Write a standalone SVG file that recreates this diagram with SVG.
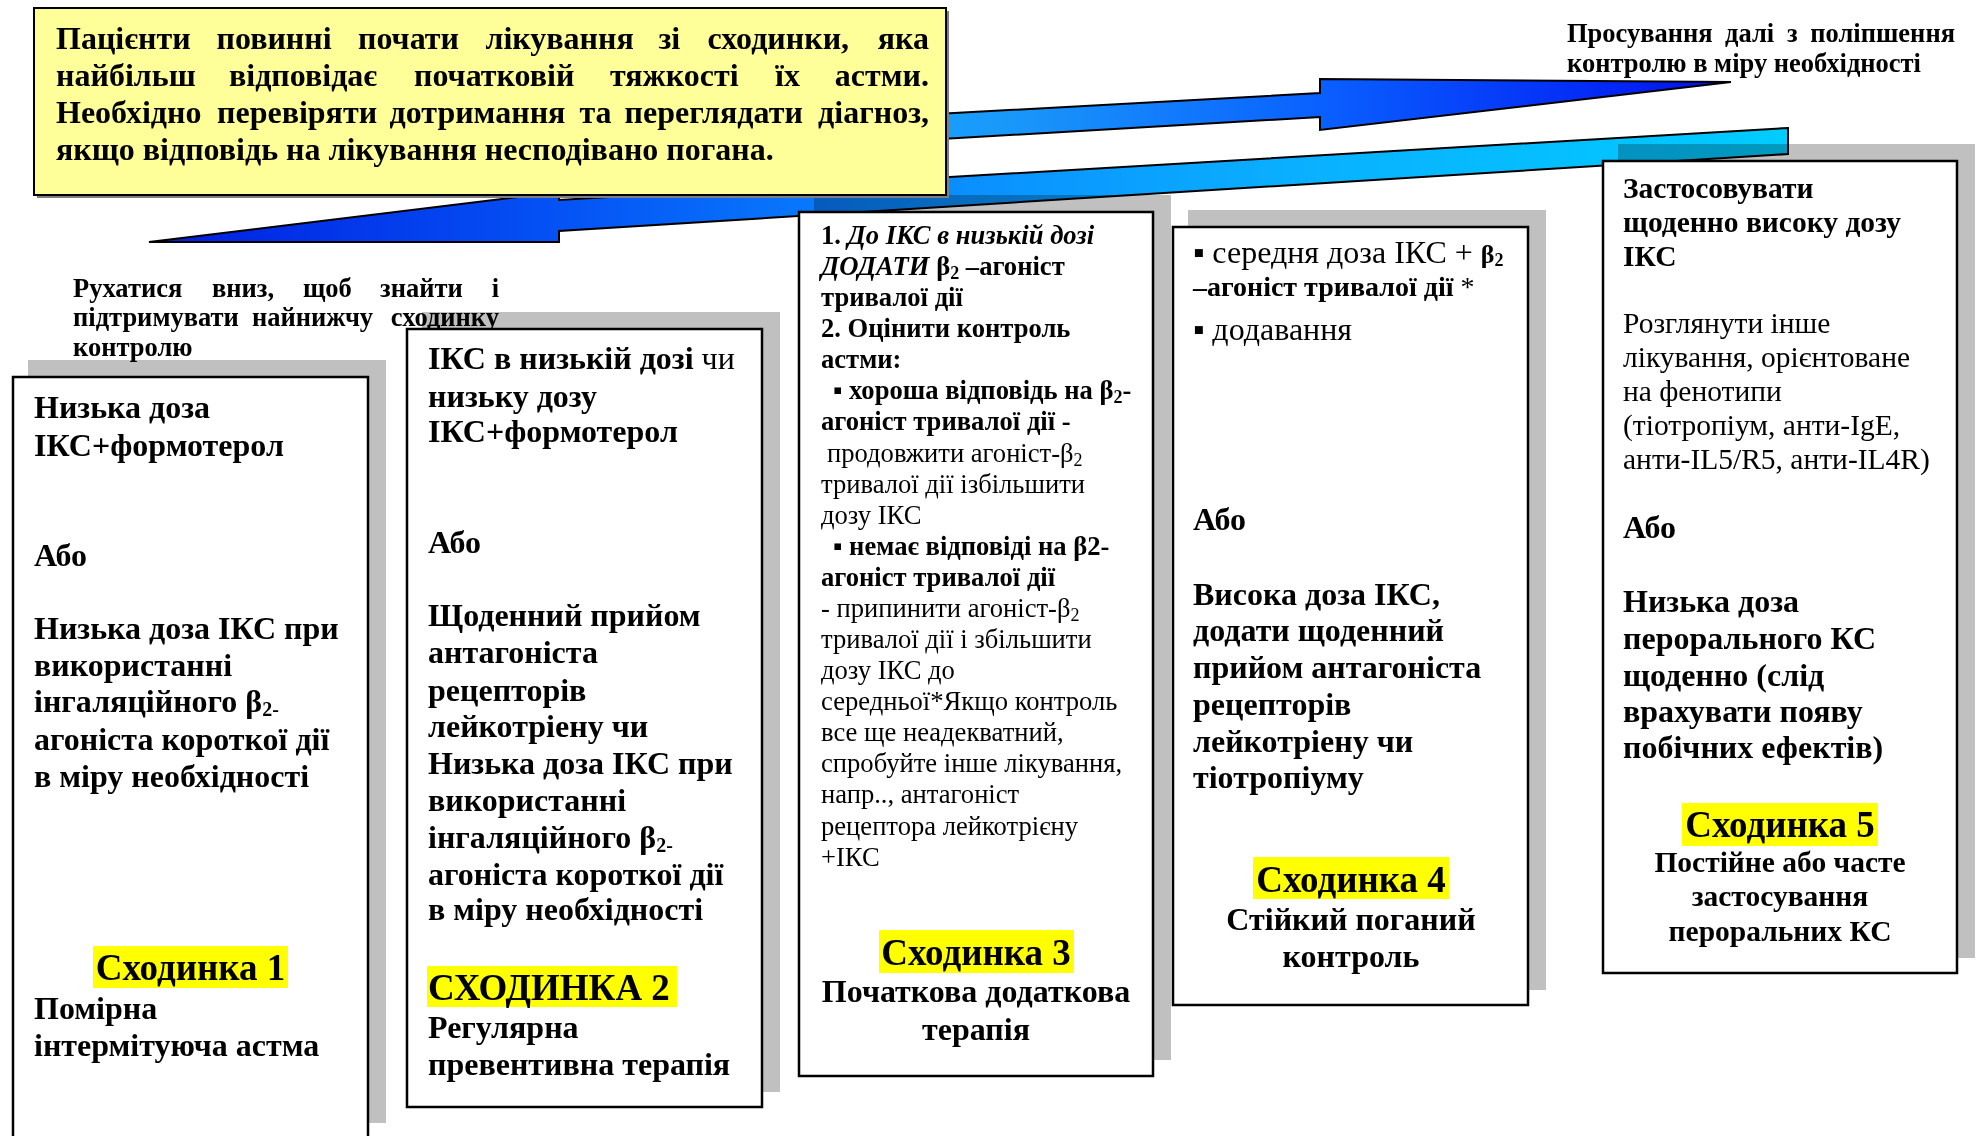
<svg xmlns="http://www.w3.org/2000/svg" width="1980" height="1136" viewBox="0 0 1980 1136">
<defs>
<style>
text{font-family:"Liberation Serif","Times New Roman",serif;fill:#000;}
.b{font-weight:bold;}
.i{font-style:italic;}
.r{font-weight:normal;}
.f32{font-size:32px;}
.f30{font-size:29.5px;}
.f28{font-size:28px;}
.f27{font-size:26.6px;}
.f26{font-size:26.5px;}
.step{font-size:37px;font-weight:bold;}
.box{fill:#fff;stroke:#000;stroke-width:2.5;}
.shadow{fill:#c0c0c0;mix-blend-mode:multiply;}
.hl{fill:#ffff00;}
.arrow{stroke:#000;stroke-width:2;}
</style>
<linearGradient id="upGrad" gradientUnits="userSpaceOnUse" x1="700" y1="0" x2="1731" y2="0">
<stop offset="0" stop-color="#14b0ff"/>
<stop offset="0.3" stop-color="#1a98fa"/>
<stop offset="0.6" stop-color="#0a60ff"/>
<stop offset="1" stop-color="#0010f0"/>
</linearGradient>
<linearGradient id="downGrad" gradientUnits="userSpaceOnUse" x1="1788" y1="0" x2="149" y2="0">
<stop offset="0" stop-color="#00ccff"/>
<stop offset="0.3" stop-color="#0ab0ff"/>
<stop offset="0.5" stop-color="#0a90ff"/>
<stop offset="0.75" stop-color="#0552f5"/>
<stop offset="1" stop-color="#001ee0"/>
</linearGradient>
</defs>
<rect width="1980" height="1136" fill="#fff"/>

<g id="connectors">
<polygon id="arrow-up" class="arrow" fill="url(#upGrad)" points="700,127 1320,93 1320,79 1731,82 1320,130 1320,117 700,153"/>
<polygon id="arrow-down" class="arrow" fill="url(#downGrad)" points="1788,128 559,200 559,192 149,242 559,242 559,231 1788,154"/>
</g>

<g id="shadows">
<rect class="shadow" x="28" y="360" width="358" height="763"/>
<rect class="shadow" x="422" y="312" width="358" height="780"/>
<rect class="shadow" x="814" y="195" width="357" height="865"/>
<rect class="shadow" x="1188" y="210" width="358" height="780"/>
<rect class="shadow" x="1618" y="144" width="357" height="814"/>
</g>

<g id="label-down" class="b f26">
<text y="297"><tspan x="73">Рухатися</tspan><tspan x="212">вниз,</tspan><tspan x="303">щоб</tspan><tspan x="380">знайти</tspan></text>
<text x="499" y="297" text-anchor="end">і</text>
<text y="326"><tspan x="73">підтримувати</tspan><tspan x="252">найнижчу</tspan></text>
<text x="499" y="326" text-anchor="end">сходинку</text>
<text x="73" y="356">контролю</text>
</g>

<g id="label-up" class="b f26">
<text y="42"><tspan x="1567">Просування</tspan><tspan x="1725">далі</tspan><tspan x="1787">з</tspan></text>
<text x="1955" y="42" text-anchor="end">поліпшення</text>
<text x="1567" y="72">контролю в міру необхідності</text>
</g>

<g id="note">
<rect x="37" y="11" width="912" height="187" fill="#7f7f7f"/>
<rect x="34" y="8" width="912" height="187" fill="#ffff99" stroke="#000" stroke-width="2"/>
<g class="b f32">
<text y="49"><tspan x="56">Пацієнти</tspan><tspan x="216.5">повинні</tspan><tspan x="358">почати</tspan><tspan x="485.5">лікування</tspan><tspan x="658.5">зі</tspan><tspan x="707.5">сходинки,</tspan></text>
<text x="929" y="49" text-anchor="end">яка</text>
<text y="86"><tspan x="56">найбільш</tspan><tspan x="229">відповідає</tspan><tspan x="414">початковій</tspan><tspan x="610">тяжкості</tspan><tspan x="775">їх</tspan></text>
<text x="929" y="86" text-anchor="end">астми.</text>
<text y="123"><tspan x="56">Необхідно</tspan><tspan x="217">перевіряти</tspan><tspan x="389.5">дотримання</tspan><tspan x="579.5">та</tspan><tspan x="624.5">переглядати</tspan></text>
<text x="929" y="123" text-anchor="end">діагноз,</text>
<text x="56" y="160">якщо відповідь на лікування несподівано погана.</text>
</g>
</g>

<g id="step1">
<rect class="box" x="13" y="377" width="355" height="775"/>
<g class="b f32">
<text x="34" y="418">Низька доза</text>
<text x="34" y="456">ІКС+формотерол</text>
<text x="34" y="566">Або</text>
<text x="34" y="639">Низька доза ІКС при</text>
<text x="34" y="676">використанні</text>
<text x="34" y="712">інгаляційного β<tspan font-size="20" dy="4">2-</tspan></text>
<text x="34" y="750">агоніста короткої дії</text>
<text x="34" y="787">в міру необхідності</text>
</g>
<rect class="hl" x="93" y="946" width="195" height="42"/>
<text class="step" x="190.5" y="980" text-anchor="middle">Сходинка 1</text>
<g class="b f32">
<text x="34" y="1019">Помірна</text>
<text x="34" y="1056">інтермітуюча астма</text>
</g>
</g>

<g id="step2">
<rect class="box" x="407" y="329" width="355" height="778"/>
<g class="b f32">
<text x="428" y="369">ІКС в низькій дозі <tspan class="r">чи</tspan></text>
<text x="428" y="407">низьку дозу</text>
<text x="428" y="442">ІКС+формотерол</text>
<text x="428" y="553">Або</text>
<text x="428" y="626">Щоденний прийом</text>
<text x="428" y="663">антагоніста</text>
<text x="428" y="701">рецепторів</text>
<text x="428" y="737">лейкотріену чи</text>
<text x="428" y="774">Низька доза ІКС при</text>
<text x="428" y="811">використанні</text>
<text x="428" y="848">інгаляційного β<tspan font-size="20" dy="4">2-</tspan></text>
<text x="428" y="885">агоніста короткої дії</text>
<text x="428" y="920">в міру необхідності</text>
</g>
<rect class="hl" x="427" y="966" width="250" height="41"/>
<text class="step" x="428" y="1000">СХОДИНКА 2</text>
<g class="b f32">
<text x="428" y="1038">Регулярна</text>
<text x="428" y="1075">превентивна терапія</text>
</g>
</g>

<g id="step3">
<rect class="box" x="799" y="212" width="354" height="864"/>
<g class="f27">
<text class="b" x="821" y="244">1. <tspan class="i">До ІКС в низькій дозі</tspan></text>
<text class="b" x="821" y="275"><tspan class="i">ДОДАТИ</tspan> β<tspan font-size="18" dy="4">2</tspan><tspan dy="-4"> –агоніст</tspan></text>
<text class="b" x="821" y="306">тривалої дії</text>
<text class="b" x="821" y="337">2. Оцінити контроль</text>
<text class="b" x="821" y="368">астми:</text>
<text class="b" x="833" y="399">▪ хороша відповідь на β<tspan font-size="18" dy="4">2</tspan><tspan dy="-4">-</tspan></text>
<text class="b" x="821" y="430">агоніст тривалої дії -</text>
<text x="827" y="462">продовжити агоніст-β<tspan font-size="18" dy="4">2</tspan></text>
<text x="821" y="493">тривалої дії ізбільшити</text>
<text x="821" y="524">дозу ІКС</text>
<text class="b" x="833" y="555">▪ немає відповіді на β2-</text>
<text class="b" x="821" y="586">агоніст тривалої дії</text>
<text x="821" y="617">- припинити агоніст-β<tspan font-size="18" dy="4">2</tspan></text>
<text x="821" y="648">тривалої дії і збільшити</text>
<text x="821" y="679">дозу ІКС до</text>
<text x="821" y="710">середньої*Якщо контроль</text>
<text x="821" y="741">все ще неадекватний,</text>
<text x="821" y="772">спробуйте інше лікування,</text>
<text x="821" y="803">напр.., антагоніст</text>
<text x="821" y="835">рецептора лейкотрієну</text>
<text x="821" y="866">+ІКС</text>
</g>
<rect class="hl" x="879" y="930" width="195" height="43"/>
<text class="step" x="976" y="965" text-anchor="middle">Сходинка 3</text>
<text class="b f32" x="976" y="1002" text-anchor="middle">Початкова додаткова</text>
<text class="b f32" x="976" y="1040" text-anchor="middle">терапія</text>
</g>

<g id="step4">
<rect class="box" x="1173" y="227" width="355" height="778"/>
<text class="f32" x="1193" y="263">▪ середня доза ІКС + <tspan class="b" font-size="26">β</tspan><tspan class="b" font-size="18" dy="3">2</tspan></text>
<text class="b f28" x="1193" y="296">–агоніст  тривалої дії <tspan class="r">*</tspan></text>
<text class="f32" x="1193" y="340">▪ додавання</text>
<g class="b f32">
<text x="1193" y="530">Або</text>
<text x="1193" y="605">Висока доза ІКС,</text>
<text x="1193" y="641">додати щоденний</text>
<text x="1193" y="678">прийом антагоніста</text>
<text x="1193" y="715">рецепторів</text>
<text x="1193" y="752">лейкотріену чи</text>
<text x="1193" y="788">тіотропіуму</text>
</g>
<rect class="hl" x="1253" y="857" width="196" height="42"/>
<text class="step" x="1351" y="892" text-anchor="middle">Сходинка 4</text>
<text class="b f32" x="1351" y="930" text-anchor="middle">Стійкий поганий</text>
<text class="b f32" x="1351" y="967" text-anchor="middle">контроль</text>
</g>

<g id="step5">
<rect class="box" x="1603" y="161" width="354" height="812"/>
<g class="b f30">
<text x="1623" y="198">Застосовувати</text>
<text x="1623" y="232">щоденно високу дозу</text>
<text x="1623" y="266">ІКС</text>
</g>
<g class="f30">
<text x="1623" y="333">Розглянути інше</text>
<text x="1623" y="367">лікування, орієнтоване</text>
<text x="1623" y="401">на фенотипи</text>
<text x="1623" y="435">(тіотропіум, анти-IgE,</text>
<text x="1623" y="469">анти-IL5/R5, анти-IL4R)</text>
</g>
<g class="b f32">
<text x="1623" y="538">Або</text>
<text x="1623" y="612">Низька доза</text>
<text x="1623" y="649">перорального КС</text>
<text x="1623" y="686">щоденно (слід</text>
<text x="1623" y="722">врахувати появу</text>
<text x="1623" y="758">побічних ефектів)</text>
</g>
<rect class="hl" x="1682" y="803" width="196" height="43"/>
<text class="step" x="1780" y="837" text-anchor="middle">Сходинка 5</text>
<g class="b f30">
<text x="1780" y="872" text-anchor="middle">Постійне або часте</text>
<text x="1780" y="906" text-anchor="middle">застосування</text>
<text x="1780" y="941" text-anchor="middle">пероральних КС</text>
</g>
</g>
</svg>
